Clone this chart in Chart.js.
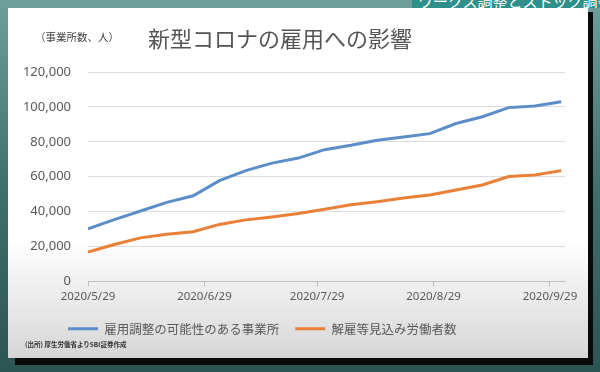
<!DOCTYPE html>
<html>
<head>
<meta charset="utf-8">
<script src="https://cdn.jsdelivr.net/npm/chart.js@4/dist/chart.umd.min.js"></script>
<style>
  body { margin: 0; width: 600px; height: 372px; overflow: hidden; position: relative;
         background: linear-gradient(to bottom, #6f9f9a 0%, #3f706c 50%, #2c5452 100%);
         font-family: 'Noto Sans CJK JP', sans-serif; }
  #banner { position: absolute; left: 412px; top: 0; width: 188px; height: 8px; overflow: hidden;
            background: #2f8f8a; }
  #banner span { position: absolute; left: 6px; top: -10px; font-size: 15px; color: #fff; white-space: nowrap; }
  #shadow { position: absolute; left: 15px; top: 12px; width: 578px; height: 353px; background: #0a0a0a; }
  #panel { position: absolute; left: 8px; top: 8px; width: 580px; height: 350px;
           background: linear-gradient(to bottom, #ffffff 0%, #ffffff 66%, #ececec 82%, #d6d6d6 100%); }
  #wrap { position: absolute; left: 8px; top: 8px; width: 580px; height: 350px; }
  .txt { position: absolute; white-space: nowrap; color: #595959; }
  #title { left: 148px; top: 26px; font-size: 22px; line-height: 22px; color: #555; }
  #unit { left: 35px; top: 31px; font-size: 10.5px; line-height: 12px; color: #444; }
  #source { left: 25px; top: 340px; font-size: 6.5px; line-height: 8px; font-weight: bold; color: #333; }
</style>
</head>
<body>
<div id="banner"><span>ワークス調整とストック調整</span></div>
<div id="shadow"></div>
<div id="panel"></div>
<div id="wrap"><canvas id="chart"></canvas></div>
<div class="txt" id="unit">（事業所数、人）</div>
<div class="txt" id="title">新型コロナの雇用への影響</div>
<div class="txt" id="source">(出所) 厚生労働省よりSBI証券作成</div>
<script>
// weekly data points
const dates = ['2020/5/29', '2020/6/5', '2020/6/12', '2020/6/19', '2020/6/26', '2020/7/3', '2020/7/10',
    '2020/7/17', '2020/7/24', '2020/7/31', '2020/8/7', '2020/8/14', '2020/8/21', '2020/8/28',
    '2020/9/4', '2020/9/11', '2020/9/18', '2020/9/25', '2020/10/2'];
const offices = [30200, 35400, 40400, 45300, 49100, 57800, 63500, 67800, 70700, 75500,
    78000, 80900, 82800, 84700, 90500, 94400, 99600, 100500, 103000];
const workers = [16800, 21200, 25000, 27000, 28500, 32700, 35300, 37000, 38900, 41400,
    43900, 45700, 47800, 49500, 52400, 55300, 60100, 61000, 63500];
const tickDates = ['2020/5/29', '2020/6/29', '2020/7/29', '2020/8/29', '2020/9/29'];
const seriesNames = ['雇用調整の可能性のある事業所', '解雇等見込み労働者数'];

function toDay(s) {
    const [y, m, d] = s.split('/').map(Number);
    return Date.UTC(y, m - 1, d) / 86400000;
}
const day0 = toDay(dates[0]);
const dayOf = s => toDay(s) - day0;
const tickDays = tickDates.map(dayOf);

// legend sits left of centre in the original, move its box
const legendShift = {
    id: 'legendShift',
    afterLayout(chart) {
        chart.legend.left = 44;
    }
};

Chart.defaults.font.family = "'Noto Sans', 'Noto Sans CJK JP', sans-serif";
Chart.defaults.color = '#595959';

const ctx = document.getElementById('chart').getContext('2d');
new Chart(ctx, {
    type: 'line',
    data: {
        datasets: [{
            label: seriesNames[0],
            data: dates.map((d, i) => ({ x: dayOf(d), y: offices[i] })),
            borderColor: '#5b8ec8',
            backgroundColor: '#5b8ec8',
            borderWidth: 3,
            pointRadius: 0,
            tension: 0
        }, {
            label: seriesNames[1],
            data: dates.map((d, i) => ({ x: dayOf(d), y: workers[i] })),
            borderColor: '#ea7f36',
            backgroundColor: '#ea7f36',
            borderWidth: 3,
            pointRadius: 0,
            tension: 0
        }]
    },
    plugins: [legendShift],
    options: {
        responsive: true,
        maintainAspectRatio: false,
        animation: false,
        layout: { padding: { left: 8, right: 23, top: 64, bottom: 13 } },
        plugins: {
            title: { display: false },
            tooltip: { enabled: false },
            legend: {
                position: 'bottom',
                align: 'start',
                labels: {
                    usePointStyle: true,
                    pointStyle: 'line',
                    pointStyleWidth: 30,
                    padding: 16,
                    font: { size: 12.5, family: "'Noto Sans CJK JP', sans-serif" },
                    color: '#595959'
                }
            }
        },
        scales: {
            x: {
                type: 'linear',
                min: 0,
                max: 127,
                afterBuildTicks: s => { s.ticks = tickDays.map(v => ({ value: v })); },
                afterFit: s => { s.height = 25; },
                ticks: {
                    callback: v => tickDates[tickDays.indexOf(v)],
                    font: { size: 11.5 },
                    padding: 3,
                    maxRotation: 0,
                    autoSkip: false
                },
                grid: { drawOnChartArea: false, drawTicks: true, tickLength: 5, color: '#bfbfbf' },
                border: { color: '#bfbfbf' }
            },
            y: {
                min: 0,
                max: 120000,
                afterFit: s => { s.width = 72; },
                ticks: {
                    stepSize: 20000,
                    callback: v => v.toLocaleString('en-US'),
                    font: { size: 13 },
                    padding: 17
                },
                grid: { color: '#dcdcdc', drawTicks: false },
                border: { display: false }
            }
        }
    }
});
</script>
</body>
</html>
